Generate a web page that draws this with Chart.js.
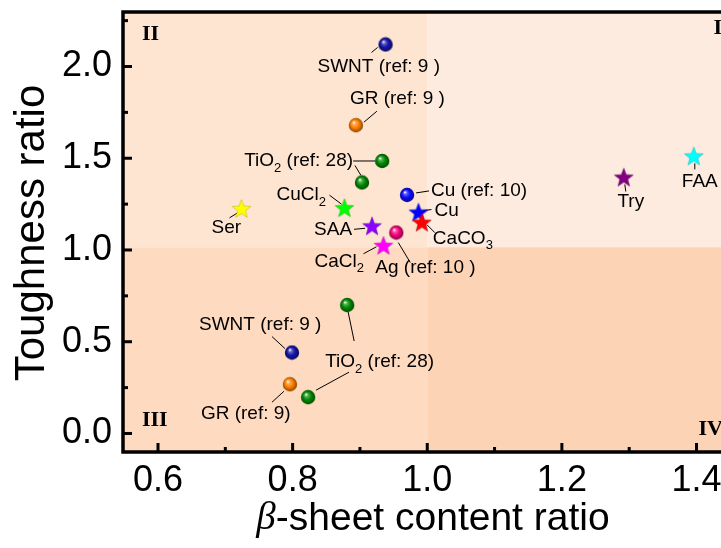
<!DOCTYPE html>
<html>
<head>
<meta charset="utf-8">
<script src="https://cdn.jsdelivr.net/npm/chart.js@4.4.0/dist/chart.umd.min.js"></script>
<style>
  html, body { margin: 0; padding: 0; background: #ffffff; overflow: hidden; }
</style>
</head>
<body>
<canvas id="scatterChart" width="721" height="548"></canvas>
<script>
/* ---- data ---- */
const sphereNames = ['SWNT (ref: 9 )', 'GR (ref: 9 )', 'TiO2 (ref: 28)', 'TiO2 (ref: 28)', 'Cu (ref: 10)',
                     'Ag (ref: 10 )', 'SWNT (ref: 9 )', 'GR (ref: 9)', 'TiO2 (ref: 28)', 'TiO2 (ref: 28)'];
const sphereX = [0.938, 0.894, 0.933, 0.903, 0.970, 0.954, 0.799, 0.796, 0.881, 0.823];
const sphereY = [2.12, 1.68, 1.485, 1.368, 1.30, 1.095, 0.441, 0.268, 0.70, 0.198];

const starNames = ['Ser', 'CuCl2', 'SAA', 'CaCl2', 'Cu', 'CaCO3', 'Try', 'FAA'];
const starX = [0.724, 0.877, 0.918, 0.935, 0.987, 0.992, 1.292, 1.396];
const starY = [1.224, 1.228, 1.129, 1.023, 1.204, 1.149, 1.395, 1.51];

const xTicks = [0.6, 0.8, 1.0, 1.2, 1.4];
const yTicks = [0.0, 0.5, 1.0, 1.5, 2.0];

/* ---- styles ---- */
const sphereColors = ['#1414a8', '#ff7f00', '#008a00', '#008a00', '#0a0aff',
                      '#f5007a', '#1414a8', '#ff7f00', '#008a00', '#008a00'];
const starColors = ['#ffff00', '#00ff00', '#8c00ff', '#ff00ff', '#0000ff', '#ff0000', '#800080', '#00ffff'];

// label placement relative to the marker (pixels): text offset + leader lines
const sphereNotes = [
    { dx: -68, dy: 22, lines: [[-8, 3, -14, 8]] },
    { dx: -6, dy: -26, lines: [[8, -3, 21, -14]] },
    { dx: -138, dy: 0, lines: [[-29, 0, -7, 0]] },
    { text: false, lines: [[-7, -17, -1, -7]] },
    { dx: 24, dy: -4, lines: [[9, -2, 22, -4]] },
    { dx: -21, dy: 35, lines: [[2, 10, 14, 30]] },
    { dx: -93, dy: -28, lines: [[-20, -16, -7, -4]] },
    { dx: -89, dy: 29, lines: [[-6, 7, -18, 18]] },
    { dx: -22, dy: 57, lines: [[1, 7, 7, 36]] },
    { text: false, lines: [[41, -25, 8, -7]] }
];
const starNotes = [
    { dx: -30, dy: 19, lines: [[-4, 4, -12, 9]] },
    { dx: -68, dy: -13, lines: [[-15, -13, -3, -4]] },
    { dx: -58, dy: 3, lines: [[-18, 3, -7, 2]] },
    { dx: -69, dy: 16, lines: [[-20, 8, -7, 1]] },
    { dx: 16, dy: -2, lines: [[5, -2, 13, -3]] },
    { dx: 11, dy: 16, lines: [[5, 2, 13, 10]] },
    { dx: 7, dy: 24, center: true, lines: [[1, 7, 2, 14]] },
    { dx: 6, dy: 25, center: true, lines: [[1, 7, 1, 13]] }
];

const X_SPLIT = 1.0;
const Y_SPLIT = 1.015;
const SANS = "'Liberation Sans', Arial, sans-serif";

function mix(hex, other, t) {
    const a = parseInt(hex.slice(1), 16), b = parseInt(other.slice(1), 16);
    const ch = (v, s) => (v >> s) & 255;
    const m = s => Math.round(ch(a, s) * (1 - t) + ch(b, s) * t);
    return 'rgb(' + m(16) + ',' + m(8) + ',' + m(0) + ')';
}

function makeSphere(color) {
    const s = 16, r = 7.2, c = document.createElement('canvas');
    c.width = s; c.height = s;
    const g = c.getContext('2d');
    const grad = g.createRadialGradient(s / 2 - 2.2, s / 2 - 2.8, 0.3, s / 2, s / 2, r);
    grad.addColorStop(0, '#ffffff');
    grad.addColorStop(0.2, mix(color, '#ffffff', 0.35));
    grad.addColorStop(0.55, color);
    grad.addColorStop(1, mix(color, '#000000', 0.45));
    g.fillStyle = grad;
    g.beginPath(); g.arc(s / 2, s / 2, r, 0, Math.PI * 2); g.fill();
    return c;
}

function makeStar(color) {
    const s = 22, R = 9.8, r = R * 0.42, c = document.createElement('canvas');
    c.width = s; c.height = s;
    const g = c.getContext('2d');
    g.beginPath();
    for (let i = 0; i < 10; i++) {
        const a = -Math.PI / 2 + i * Math.PI / 5, rad = i % 2 ? r : R;
        g.lineTo(s / 2 + rad * Math.cos(a), s / 2 + 0.5 + rad * Math.sin(a));
    }
    g.closePath();
    g.fillStyle = color; g.fill();
    g.strokeStyle = mix(color, '#000000', 0.25); g.lineWidth = 0.6; g.stroke();
    return c;
}

// draws text, putting digits that follow a letter into subscript
function drawFormula(ctx, text, x, y, center) {
    const parts = [];
    let prevSub = false;
    for (let i = 0; i < text.length; i++) {
        const ch = text[i], prev = text[i - 1] || ' ';
        const sub = /[0-9]/.test(ch) && (/[A-Za-z]/.test(prev) || (prevSub && /[0-9]/.test(prev)));
        prevSub = sub;
        if (parts.length && parts[parts.length - 1].sub === sub) parts[parts.length - 1].t += ch;
        else parts.push({ t: ch, sub: sub });
    }
    const big = '19px ' + SANS, small = '13px ' + SANS;
    let w = 0;
    parts.forEach(p => { ctx.font = p.sub ? small : big; p.w = ctx.measureText(p.t).width; w += p.w; });
    let cx = center ? x - w / 2 : x;
    ctx.textAlign = 'left';
    ctx.textBaseline = 'middle';
    parts.forEach(p => {
        ctx.font = p.sub ? small : big;
        ctx.fillText(p.t, cx, p.sub ? y + 7 : y);
        cx += p.w;
    });
}

const quadrantPlugin = {
    id: 'quadrants',
    beforeDraw(chart) {
        const { ctx, chartArea: a, scales: { x, y } } = chart;
        const mx = x.getPixelForValue(X_SPLIT), my = y.getPixelForValue(Y_SPLIT);
        ctx.save();
        ctx.fillStyle = '#ffffff';
        ctx.fillRect(0, 0, chart.width, chart.height);
        ctx.fillStyle = '#fee5d2'; ctx.fillRect(a.left, a.top, mx - a.left, my - a.top);
        ctx.fillStyle = '#fdebe0'; ctx.fillRect(mx, a.top, a.right - mx, my - a.top);
        ctx.fillStyle = '#fedbc0'; ctx.fillRect(a.left, my, mx - a.left, a.bottom - my);
        ctx.fillStyle = '#fdd3b5'; ctx.fillRect(mx, my, a.right - mx, a.bottom - my);
        ctx.restore();
    }
};

const notesPlugin = {
    id: 'notes',
    beforeDatasetsDraw(chart) {
        const ctx = chart.ctx;
        ctx.save();
        ctx.fillStyle = '#000000';
        ctx.strokeStyle = '#000000';
        ctx.lineWidth = 1;
        [[0, sphereNames, sphereNotes], [1, starNames, starNotes]].forEach(([di, names, notes]) => {
            chart.getDatasetMeta(di).data.forEach((pt, i) => {
                const n = notes[i];
                n.lines.forEach(l => {
                    ctx.beginPath();
                    ctx.moveTo(pt.x + l[0], pt.y + l[1]);
                    ctx.lineTo(pt.x + l[2], pt.y + l[3]);
                    ctx.stroke();
                });
                if (n.text !== false) drawFormula(ctx, names[i], pt.x + n.dx, pt.y + n.dy, n.center);
            });
        });
        ctx.restore();
    }
};

const framePlugin = {
    id: 'frame',
    afterDraw(chart) {
        const { ctx, chartArea: a, scales: { x, y } } = chart;
        ctx.save();
        ctx.strokeStyle = '#000000';
        ctx.lineCap = 'butt';
        // minor + major ticks, pointing inward
        ctx.lineWidth = 3;
        for (let k = 6; k <= 14; k++) {
            const px = x.getPixelForValue(k / 10), len = k % 2 === 0 ? 9 : 5;
            ctx.beginPath(); ctx.moveTo(px, a.bottom); ctx.lineTo(px, a.bottom - len); ctx.stroke();
        }
        for (let k = 0; k <= 9; k++) {
            const py = y.getPixelForValue(k * 0.25), len = k % 2 === 0 ? 9 : 5;
            ctx.beginPath(); ctx.moveTo(a.left, py); ctx.lineTo(a.left + len, py); ctx.stroke();
        }
        // axis lines and top border
        ctx.lineWidth = 3.5;
        ctx.lineCap = 'square';
        ctx.beginPath();
        ctx.moveTo(a.right + 2, a.top);
        ctx.lineTo(a.left, a.top);
        ctx.lineTo(a.left, a.bottom);
        ctx.lineTo(a.right + 2, a.bottom);
        ctx.stroke();

        // quadrant numerals
        ctx.fillStyle = '#000000';
        ctx.font = "bold 22px 'Liberation Serif', 'Times New Roman', serif";
        ctx.textBaseline = 'middle';
        ctx.textAlign = 'left';
        ctx.fillText('II', a.left + 19, a.top + 22);
        ctx.fillText('III', a.left + 19, a.bottom - 32);
        ctx.textAlign = 'right';
        ctx.fillText('I', a.right + 1, a.top + 16);
        ctx.fillText('IV', a.right + 2, a.bottom - 23);

        // axis titles
        ctx.textAlign = 'left';
        const fs = 39;
        ctx.font = "italic " + fs + "px 'Liberation Serif', serif";
        const wb = ctx.measureText('\u03B2').width;
        ctx.font = fs + 'px ' + SANS;
        const wr = ctx.measureText('-sheet content ratio').width;
        let tx = 433 - (wb + wr) / 2;
        ctx.font = "italic " + fs + "px 'Liberation Serif', serif";
        ctx.fillText('\u03B2', tx, 519);
        ctx.font = fs + 'px ' + SANS;
        ctx.fillText('-sheet content ratio', tx + wb, 519);

        ctx.translate(32, 233);
        ctx.rotate(-Math.PI / 2);
        ctx.textAlign = 'center';
        ctx.font = '42px ' + SANS;
        ctx.fillText('Toughness ratio', 0, 0);
        ctx.restore();
    }
};

function initScatterChart() {
    const el = document.getElementById('scatterChart');
    new Chart(el, {
        type: 'scatter',
        data: {
            datasets: [
                {
                    label: 'ref',
                    data: sphereX.map((v, i) => ({ x: v, y: sphereY[i] })),
                    pointStyle: sphereColors.map(makeSphere),
                    pointRadius: 8
                },
                {
                    label: 'this work',
                    data: starX.map((v, i) => ({ x: v, y: starY[i] })),
                    pointStyle: starColors.map(makeStar),
                    pointRadius: 10
                }
            ]
        },
        options: {
            responsive: false,
            animation: false,
            events: [],
            layout: { autoPadding: false, padding: { top: 12, right: 0, bottom: 0, left: 0 } },
            plugins: {
                legend: { display: false },
                tooltip: { enabled: false }
            },
            scales: {
                x: {
                    type: 'linear',
                    min: 0.548,
                    max: 1.4364,
                    afterBuildTicks: s => { s.ticks = xTicks.map(v => ({ value: v })); },
                    afterFit: s => { s.height = 96; s.paddingLeft = 0; s.paddingRight = 0; },
                    grid: { display: false, drawTicks: false },
                    border: { display: false },
                    ticks: {
                        color: '#000000',
                        padding: 0,
                        maxRotation: 0,
                        font: { family: SANS, size: 36, lineHeight: 1.62 },
                        callback: v => v.toFixed(1)
                    }
                },
                y: {
                    type: 'linear',
                    min: -0.101,
                    max: 2.297,
                    afterBuildTicks: s => { s.ticks = yTicks.map(v => ({ value: v })); },
                    afterFit: s => { s.width = 123; s.paddingTop = 0; s.paddingBottom = 0; },
                    grid: { display: false, drawTicks: false },
                    border: { display: false },
                    ticks: {
                        color: '#000000',
                        padding: 11,
                        font: { family: SANS, size: 36 },
                        callback: v => v.toFixed(1)
                    }
                }
            }
        },
        plugins: [quadrantPlugin, notesPlugin, framePlugin]
    });
}

initScatterChart();
</script>
</body>
</html>
